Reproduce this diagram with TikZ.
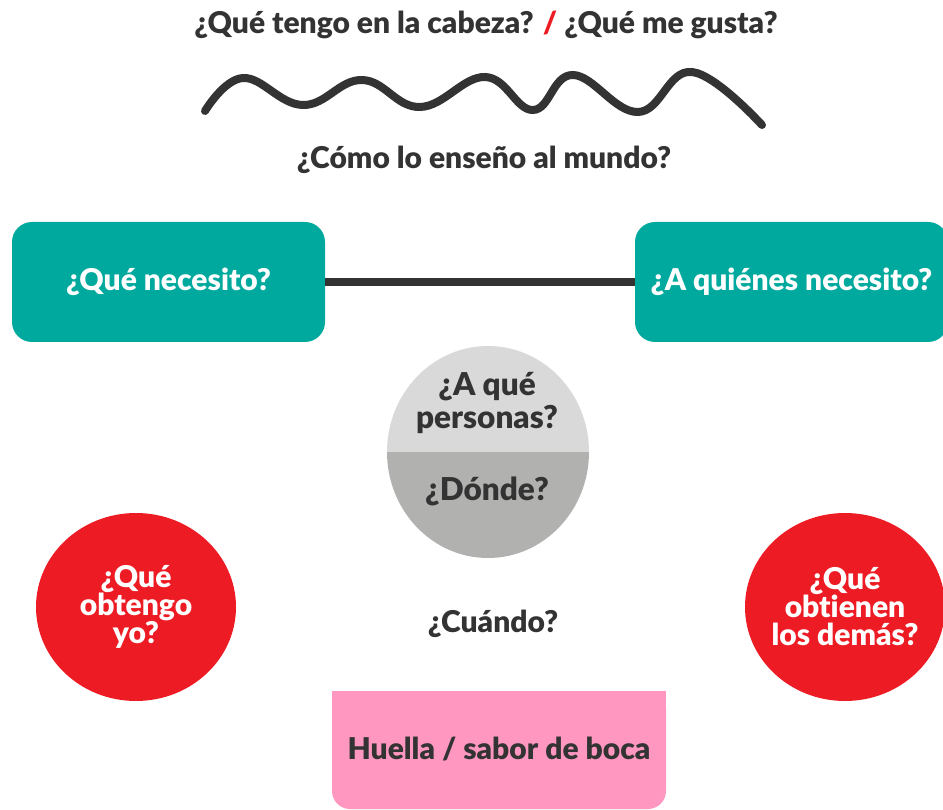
\documentclass[tikz,border=0pt]{standalone}
\usepackage{fontspec}
\setmainfont{Lato}[BoldFont={Lato Black},Ligatures=NoCommon]
\usetikzlibrary{shapes.geometric}
\definecolor{inkgray}{HTML}{333333}
\definecolor{tealfill}{HTML}{00A99D}
\definecolor{redfill}{HTML}{ED1C24}
\definecolor{pinkfill}{HTML}{FF97C1}
\definecolor{lightgray}{HTML}{D9D9D9}
\definecolor{midgray}{HTML}{B1B1B0}
\begin{document}
\begin{tikzpicture}[x=1pt,y=-1pt,every node/.style={font=\bfseries\fontsize{30}{28}\selectfont,text=inkgray,align=center,inner sep=0pt},tealbox/.style={rectangle,rounded corners=20pt,fill=tealfill,text=white,minimum width=313pt,minimum height=120pt},redball/.style={ellipse,fill=redfill,text=white,inner sep=-15pt,minimum width=200pt,minimum height=188pt},link/.style={draw=inkgray,line width=8pt},wave/.style={draw=inkgray,line width=8pt,line cap=round}]
            \useasboundingbox (0,0) rectangle (943,810);
            % top questions and the wave
            \node (cabeza) at (486,25) {¿Qué tengo en la cabeza? \textcolor{redfill}{/} ¿Qué me gusta?};
            \draw[wave] plot[smooth,tension=0.7] coordinates {(205,111) (243,78) (303,105) (362,80) (420,107) (485,77) (533,110) (573,75) (638,112) (692,72) (762,125)};
            \node (mundo) at (484,160) {¿Cómo lo enseño al mundo?};
            % teal boxes
            \node[tealbox] (necesito) at (168.5,282) {¿Qué necesito?};
            \node[tealbox] (quienes) at (791.5,282) {¿A quiénes necesito?};
            \draw[link] (necesito) -- (quienes);
            % split ellipse
            \begin{scope}
                \clip (488,452) ellipse [x radius=101, y radius=106];
                \fill[lightgray] (380,340) rectangle (600,452);
                \fill[midgray] (380,452) rectangle (600,565);
            \end{scope}
            \node[font=\bfseries\fontsize{31.5}{33}\selectfont] (personas) at (487,403) {¿A qué\\personas?};
            \node[font=\bfseries\fontsize{31.5}{33}\selectfont] (donde) at (487,491) {¿Dónde?};
            % red circles
            \node[redball] (obtengo) at (136,607) {¿Qué\\obtengo\\yo?};
            \node[redball] (obtienen) at (845,607) {¿Qué\\obtienen\\los demás?};
            \node (cuando) at (493,624) {¿Cuándo?};
            % pink box
            \fill[pinkfill,rounded corners=18pt] (332,691) rectangle (666,809);
            \fill[pinkfill] (332,691) rectangle (666,740);
            \node (huella) at (499,749) {Huella / sabor de boca};
\end{tikzpicture}
\end{document}
